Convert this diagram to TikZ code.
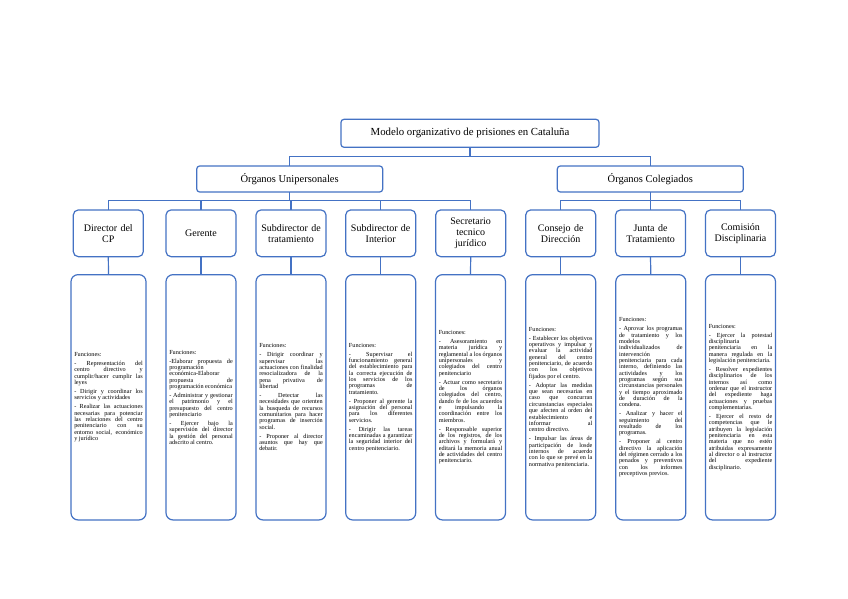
\documentclass[tikz,border=0pt]{standalone}
\usepackage{fontspec}
\setmainfont{Liberation Serif}
\newcommand{\funcfont}{\fontsize{6.2}{6.35}\selectfont\fontdimen4\font=0pt
  \setlength{\parskip}{2.6pt}\setlength{\parindent}{0pt}%
  \tolerance=10000 \hyphenpenalty=10000 \exhyphenpenalty=10000 \lefthyphenmin=64 \hbadness=10000}
\newcommand{\lbk}{\linebreak}
\begin{document}
\begin{tikzpicture}[x=1pt,y=-1pt,
  every node/.style={inner sep=0pt, outer sep=0pt},
  linkline/.style={draw=boxblue, line width=1.2pt},
  topbox/.style={draw=boxblue, line width=1.2pt, rounded corners=3pt, fill=white,
     minimum width=258pt, minimum height=28pt, font={\fontsize{10.8}{12}\selectfont}},
  groupbox/.style={draw=boxblue, line width=1.2pt, rounded corners=3pt, fill=white,
     minimum width=186pt, minimum height=26pt, font={\fontsize{10.5}{12}\selectfont}},
  rolebox/.style={draw=boxblue, line width=1.2pt, rounded corners=5pt, fill=white,
     minimum width=70pt, minimum height=46.7pt, text width=66pt, align=center,
     font={\fontsize{10}{10.8}\selectfont}},
  funcbox/.style={draw=boxblue, line width=1.2pt, rounded corners=7pt, fill=white,
     minimum width=#1pt, minimum height=245.3pt, text width=#1pt-6.5pt, align=justify,
     font={\funcfont}},
  funcbox/.default=70
]
\definecolor{boxblue}{HTML}{4472C4}
\fill[white] (0,0) rectangle (848,599);
\useasboundingbox (0,0) rectangle (848,599);

\node[topbox] (top) at (470,133.3) {Modelo organizativo de prisiones en Cataluña};
\node[groupbox] (uni) at (289.7,179) {Órganos Unipersonales};
\node[groupbox] (col) at (650.3,179) {Órganos Colegiados};

\node[rolebox] (r1) at (108.3,233.3) {Director del\\CP};
\node[rolebox] (r2) at (201,233.3) {Gerente};
\node[rolebox] (r3) at (291,233.3) {Subdirector de\\tratamiento};
\node[rolebox] (r4) at (380.7,233.3) {Subdirector de\\Interior};
\node[rolebox] (r5) at (470.7,233.3) {Secretario\\tecnico\\jurídico};
\node[rolebox] (r6) at (560.7,233.3) {Consejo de\\Dirección};
\node[rolebox] (r7) at (650.5,233.3) {Junta de\\Tratamiento};
\node[rolebox] (r8) at (740.5,233.3) {Comisión\\Disciplinaria};

\node[funcbox=75] (f1) at (108.5,397.3) {Funciones:\par
- Representación del\lbk centro directivo y\lbk cumplir/hacer cumplir las\lbk leyes\par
- Dirigir y coordinar los\lbk servicios y actividades\par
- Realizar las actuaciones\lbk necesarias para potenciar\lbk las relaciones del centro\lbk penitenciario con su\lbk entorno social, económico\lbk y jurídico};

\node[funcbox] (f2) at (201,397.3) {Funciones:\par
-Elaborar propuesta de\lbk programación\lbk económica-Elaborar\lbk propuesta de\lbk programación económica\par
- Administrar y gestionar\lbk el patrimonio y el\lbk presupuesto del centro\lbk penitenciario\par
- Ejercer bajo la\lbk supervisión del director\lbk la gestión del personal\lbk adscrito al centro.};

\node[funcbox] (f3) at (291,397.3) {Funciones:\par
- Dirigir coordinar y\lbk supervisar las\lbk actuaciones con finalidad\lbk resocializadora de la\lbk pena privativa de\lbk libertad\par
- Detectar las\lbk necesidades que orienten\lbk la busqueda de recursos\lbk comunitarios para hacer\lbk programas de inserción\lbk social.\par
- Proponer al director\lbk asuntos que hay que\lbk debatir.};

\node[funcbox] (f4) at (380.7,397.3) {Funciones:\par
- Supervisar el\lbk funcionamiento general\lbk del establecimiento para\lbk la correcta ejecución de\lbk los servicios de los\lbk programas de\lbk tratamiento.\par
- Proponer al gerente la\lbk asignación del personal\lbk para los diferentes\lbk servicios.\par
- Dirigir las tareas\lbk encaminadas a garantizar\lbk la seguridad interior del\lbk centro penitenciario.};

\node[funcbox] (f5) at (470.5,397.3) {Funciones:\par
- Asesoramiento en\lbk materia jurídica y\lbk reglamental a los órganos\lbk unipersonales y\lbk colegiados del centro\lbk penitenciario\par
- Actuar como secretario\lbk de los órganos\lbk colegiados del centro,\lbk dando fe de los acuerdos\lbk e impulsando la\lbk coordinación entre los\lbk miembros.\par
- Responsable superior\lbk de los registros, de los\lbk archivos y formulará y\lbk editará la memoria anual\lbk de actividades del centro\lbk penitenciario.};

\node[funcbox] (f6) at (560.7,397.3) {Funciones:\par
- Establecer los objetivos\lbk operativos y impulsar y\lbk evaluar la actividad\lbk general del centro\lbk penitenciario, de acuerdo\lbk con los objetivos\lbk fijados por el centro.\par
- Adoptar las medidas\lbk que sean necesarias en\lbk caso que concurran\lbk circunstancias especiales\lbk que afecten al orden del\lbk establecimiento e\lbk informar al\lbk centro directivo.\par
- Impulsar las áreas de\lbk participación de losde\lbk internos de acuerdo\lbk con lo que se prevé en la\lbk normativa penitenciaria.};

\node[funcbox] (f7) at (650.8,397.3) {Funciones:\par
- Aprovar los programas\lbk de tratamiento y los\lbk modelos\lbk individualizados de\lbk intervención\lbk penitenciaria para cada\lbk interno, definiendo las\lbk actividades y los\lbk programas según sus\lbk circunstancias personales\lbk y el tiempo aproximado\lbk de duración de la\lbk condena.\par
- Analizar y hacer el\lbk seguimiento del\lbk resultado de los\lbk programas.\par
- Proponer al centro\lbk directivo la aplicación\lbk del régimen cerrado a los\lbk penados y preventivos\lbk con los informes\lbk preceptivos previos.};

\node[funcbox] (f8) at (740.5,397.3) {Funciones:\par
- Ejercer la potestad\lbk disciplinaria\lbk penitenciaria en la\lbk manera regulada en la\lbk legislación penitenciaria.\par
- Resolver expedientes\lbk disciplinarios de los\lbk internos así como\lbk ordenar que el instructor\lbk del expediente haga\lbk actuaciones y pruebas\lbk complementarias.\par
- Ejercer el resto de\lbk competencias que le\lbk atribuyen la legislación\lbk penitenciaria en esta\lbk materia que no estén\lbk atribuidas expresamente\lbk al director o al instructor\lbk del expediente\lbk disciplinario.};

% connectors
\draw[linkline] (top.south) -- ++(0,9.4) -| (uni.north);
\draw[linkline] (top.south) -- ++(0,9.4) -| (col.north);
\foreach \r in {r1,r2,r3,r4,r5}
  \draw[linkline] (uni.south) -- ++(0,8.7) -| (\r.north);
\foreach \r in {r6,r7,r8}
  \draw[linkline] (col.south) -- ++(0,8.7) -| (\r.north);
\foreach \i in {1,...,8}
  \draw[linkline] (r\i.south) -- (f\i.north);
\end{tikzpicture}
\end{document}
